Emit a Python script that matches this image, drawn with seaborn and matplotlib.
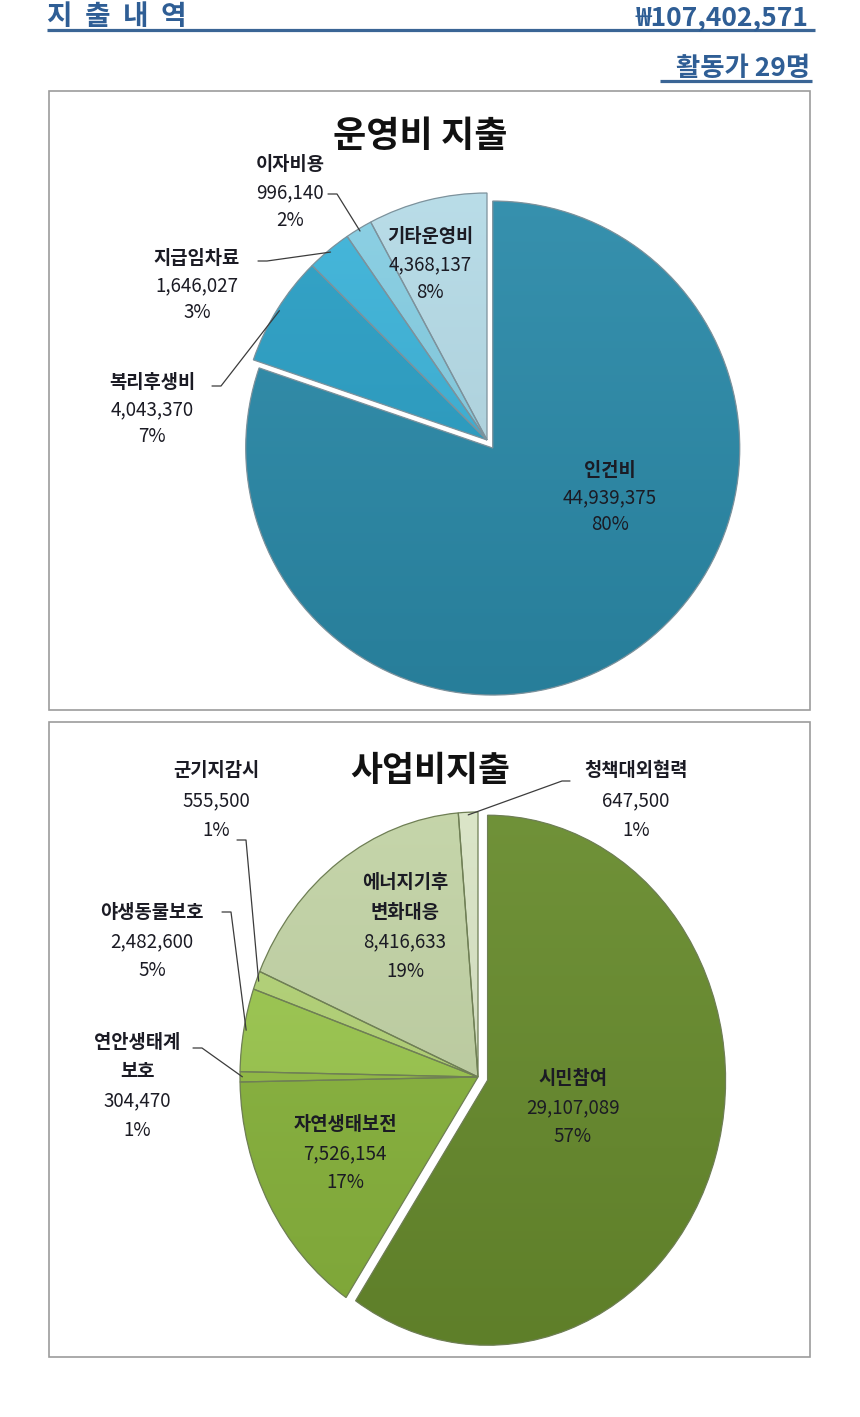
import numpy as np
import matplotlib
matplotlib.use("Agg")
import matplotlib.pyplot as plt
import seaborn as sns
from matplotlib.patches import Rectangle, Wedge
from matplotlib.colors import to_rgb

# ---------------- data ----------------
op_title = "운영비 지출"
op_categories = ["인건비", "복리후생비", "지급임차료", "이자비용", "기타운영비"]
op_values = [44939375, 4043370, 1646027, 996140, 4368137]
op_pct_labels = ["80%", "7%", "3%", "2%", "8%"]
op_colors = ["#2B8BAA", "#2AA0C6", "#3CB4DA", "#86CFE4", "#B6DCE8"]

biz_title = "사업비지출"
biz_categories = ["시민참여", "자연생태보전", "연안생태계\n보호", "야생동물보호",
                  "군기지감시", "에너지기후\n변화대응", "청책대외협력"]
biz_values = [29107089, 7526154, 304470, 2482600, 555500, 8416633, 647500]
biz_pct_labels = ["57%", "17%", "1%", "5%", "1%", "19%", "1%"]
biz_colors = ["#688C2D", "#8AB63D", "#95BF44", "#9DC94F", "#B5D577", "#C3D4A6", "#DAE5C6"]

header_title = "지  출  내  역"
total_label = "₩107,402,571"
staff_label = "활동가 29명"

# ---------------- style ----------------
sns.set_theme(style="white")
plt.rcParams["font.family"] = ["Noto Sans CJK KR", "DejaVu Sans"]

W, H = 860, 1417
fig = plt.figure(figsize=(W / 100, H / 100), dpi=100)
fig.patch.set_facecolor("white")

bg = fig.add_axes([0, 0, 1, 1], zorder=0)
bg.set_xlim(0, W); bg.set_ylim(H, 0); bg.axis("off")
ov = fig.add_axes([0, 0, 1, 1], zorder=5)
ov.set_xlim(0, W); ov.set_ylim(H, 0); ov.axis("off")
ov.patch.set_alpha(0)

HEAD = "#2F5E95"
LINE = "#3A6595"
TXT = "#1b1b24"

# header
bg.text(47, 25, header_title, color=HEAD, fontsize=20, fontweight="bold", ha="left", va="baseline")
bg.text(808, 25, total_label, color=HEAD, fontsize=19, fontweight="bold", ha="right", va="baseline")
bg.plot([47, 815], [29.5, 29.5], color=LINE, lw=2.3, solid_capstyle="butt")
bg.text(810, 76, staff_label, color=HEAD, fontsize=19, fontweight="bold", ha="right", va="baseline")
bg.plot([660, 812], [81, 81], color=LINE, lw=2.3, solid_capstyle="butt")

# boxes
bg.add_patch(Rectangle((49, 91), 761, 619, fill=False, ec="#9c9c9c", lw=1.2))
bg.add_patch(Rectangle((49, 722), 761, 635, fill=False, ec="#9c9c9c", lw=1.2))


def draw_pie(values, colors, cx, cy, rx, ry, explode, edge):
    k = 1.12
    ax = fig.add_axes([(cx - rx * k) / W, 1 - (cy + ry * k) / H, 2 * rx * k / W, 2 * ry * k / H],
                      zorder=1)
    wedges, _ = ax.pie(values, colors=colors, startangle=90, counterclock=False,
                       explode=explode, wedgeprops=dict(linewidth=0))
    ax.set_aspect("auto")
    t = np.linspace(0, 1, 256)[:, None, None]
    for w, c in zip(wedges, colors):
        rgb = np.array(to_rgb(c))
        top = rgb + (1 - rgb) * 0.06
        bot = rgb * 0.90
        img = top * (1 - t) + bot * t
        im = ax.imshow(img, extent=(-k, k, -k, k), aspect="auto", origin="upper",
                       zorder=2, interpolation="bilinear")
        im.set_clip_path(w)
        ax.add_patch(Wedge(w.center, w.r, w.theta1, w.theta2, fill=False,
                           ec=edge, lw=0.9, zorder=3))
    ax.set_xlim(-k, k); ax.set_ylim(-k, k); ax.axis("off")
    return wedges


def rim(w, cx, cy, rx, ry, f=0.99):
    a = np.deg2rad((w.theta1 + w.theta2) / 2)
    x = w.center[0] + f * w.r * np.cos(a)
    y = w.center[1] + f * w.r * np.sin(a)
    return cx + x * rx, cy - y * ry


def label(x, y0, name, value, pct, step=28):
    lines = name.split("\n")
    n = len(lines)
    allines = lines + [f"{value:,}", pct]
    for i, s in enumerate(allines):
        ov.text(x, y0 + i * step, s, ha="center", va="center", fontsize=13.5, color=TXT,
                fontweight="bold" if i < n else "normal")


def leader(p0, p1, p2):
    ov.plot([p0[0], p1[0], p2[0]], [p0[1], p1[1], p2[1]], color="#3c3c3c", lw=0.9)


# ---------------- top pie ----------------
tcx, tcy, tr = 487, 440, 247
op_w = draw_pie(op_values, op_colors, tcx, tcy, tr, tr, [0.04, 0, 0, 0, 0], "#7d929c")
ov.text(420, 136, op_title, ha="center", va="center", fontsize=26, fontweight="bold", color="#111111")

op_label_pos = [(610, 470), (152, 382), (197, 258), (290, 165), (430, 237)]
for (x, y), n, v, p in zip(op_label_pos, op_categories, op_values, op_pct_labels):
    label(x, y, n, v, p, step=27.5)
leader((212, 386), (221, 386), rim(op_w[1], tcx, tcy, tr, tr))
leader((258, 261), (267, 261), rim(op_w[2], tcx, tcy, tr, tr))
leader((328, 194), (337, 194), rim(op_w[3], tcx, tcy, tr, tr))

# ---------------- bottom pie ----------------
bcx, bcy, brx, bry = 478, 1077, 238, 265
biz_w = draw_pie(biz_values, biz_colors, bcx, bcy, brx, bry, [0.042, 0, 0, 0, 0, 0, 0], "#6f7f55")
ov.text(430, 771, biz_title, ha="center", va="center", fontsize=25, fontweight="bold", color="#111111")

biz_label_pos = [(573, 1078), (345, 1124), (137, 1042), (152, 912), (216, 771), (405, 883), (636, 771)]
for (x, y), n, v, p in zip(biz_label_pos, biz_categories, biz_values, biz_pct_labels):
    label(x, y, n, v, p, step=29.5)
leader((570, 781), (562, 781), rim(biz_w[6], bcx, bcy, brx, bry))
leader((237, 840), (246, 840), rim(biz_w[4], bcx, bcy, brx, bry))
leader((222, 912), (231, 912), rim(biz_w[3], bcx, bcy, brx, bry))
leader((193, 1048), (202, 1048), rim(biz_w[2], bcx, bcy, brx, bry))

fig.savefig("out.png", dpi=100, facecolor="white")
